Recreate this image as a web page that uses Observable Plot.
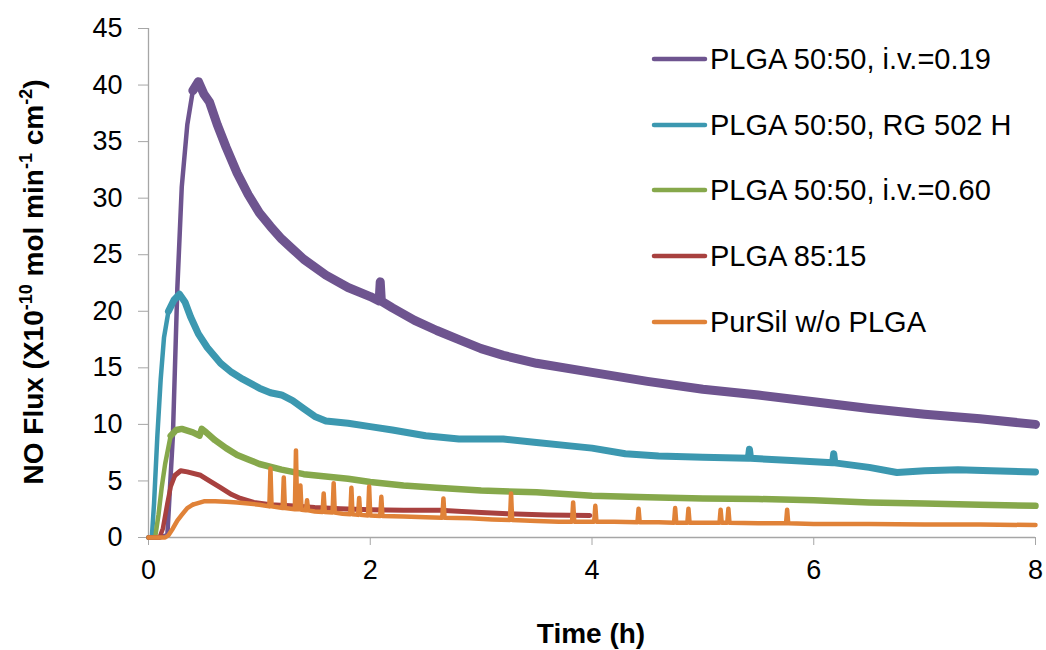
<!DOCTYPE html>
<html>
<head>
<meta charset="utf-8">
<script src="https://cdn.jsdelivr.net/npm/d3@7"></script>
<script src="https://cdn.jsdelivr.net/npm/@observablehq/plot@0.6"></script>
<style>
  html, body { margin: 0; padding: 0; background: #fff; }
  #chart { position: relative; width: 1046px; height: 650px; }
</style>
</head>
<body>
<div id="chart"></div>
<script>
// ---- Data ----
const seriesNames = ["PLGA 50:50, i.v.=0.19", "PLGA 50:50, RG 502 H", "PLGA 50:50, i.v.=0.60", "PLGA 85:15", "PurSil w/o PLGA"];
const seriesColors = ["#6E548F", "#3C98B0", "#86A84B", "#A8413F", "#E08238"];
const seriesWidths = [9, 7, 6.5, 5, 4.5];

const xTicks = [0, 2, 4, 6, 8];
const yTicks = [0, 5, 10, 15, 20, 25, 30, 35, 40, 45];

// time (h), flux
const plga019 = [[0,0],[0.1,0],[0.17,0.2],[0.22,9],[0.26,22],[0.3,31],[0.35,36.5],[0.4,39.5],[0.45,40.3],[0.5,39.2],[0.55,38.5],[0.62,36.5],[0.7,34.5],[0.8,32.2],[0.9,30.3],[1.0,28.7],[1.1,27.5],[1.2,26.4],[1.3,25.5],[1.4,24.6],[1.6,23.2],[1.8,22.1],[2.0,21.3],[2.08,20.9],[2.09,22.6],[2.10,20.9],[2.2,20.3],[2.4,19.2],[2.6,18.3],[2.8,17.5],[3.0,16.7],[3.2,16.1],[3.5,15.4],[4.0,14.6],[4.5,13.8],[5.0,13.1],[5.5,12.6],[6.0,12.0],[6.5,11.4],[7.0,10.9],[7.5,10.5],[8,10.0]];

const plgaRG502H = [[0,0],[0.03,0],[0.05,3],[0.08,9],[0.11,14],[0.14,17.7],[0.18,20],[0.23,21],[0.28,21.5],[0.33,20.8],[0.38,19.5],[0.45,18],[0.53,16.8],[0.65,15.4],[0.75,14.6],[0.85,14],[1.0,13.2],[1.1,12.8],[1.2,12.6],[1.3,12.1],[1.4,11.4],[1.5,10.7],[1.6,10.3],[1.8,10.1],[2.0,9.8],[2.2,9.5],[2.5,9.0],[2.8,8.7],[3.0,8.7],[3.2,8.7],[3.5,8.4],[3.8,8.1],[4.0,7.9],[4.3,7.4],[4.6,7.2],[5.0,7.1],[5.41,7.0],[5.42,7.8],[5.43,7.0],[5.8,6.8],[6.17,6.6],[6.18,7.4],[6.19,6.6],[6.5,6.2],[6.75,5.75],[7.0,5.9],[7.3,6.0],[7.6,5.9],[8,5.8]];

const plga060 = [[0,0],[0.06,0],[0.09,2],[0.12,4.5],[0.15,6.5],[0.2,9],[0.25,9.5],[0.3,9.6],[0.4,9.3],[0.46,9.0],[0.48,9.6],[0.52,9.3],[0.6,8.6],[0.7,7.9],[0.8,7.3],[0.9,6.9],[1.0,6.5],[1.2,6.0],[1.4,5.6],[1.6,5.4],[1.8,5.2],[2.0,4.9],[2.3,4.6],[2.6,4.4],[3.0,4.15],[3.5,4.0],[4.0,3.7],[4.5,3.55],[5.0,3.45],[5.5,3.4],[6.0,3.3],[6.5,3.1],[7.0,3.0],[7.5,2.9],[8,2.8]];

const plga8515 = [[0,0],[0.1,0],[0.13,0.8],[0.17,3],[0.2,4.5],[0.24,5.5],[0.29,5.9],[0.35,5.8],[0.47,5.5],[0.55,5.0],[0.65,4.4],[0.75,3.8],[0.83,3.45],[0.95,3.1],[1.1,2.9],[1.28,2.8],[1.5,2.65],[1.73,2.55],[2.0,2.45],[2.3,2.4],[2.63,2.4],[3.0,2.2],[3.24,2.1],[3.6,2.0],[3.98,1.95]];

const pursil = [[0,0],[0.15,0],[0.18,0.2],[0.22,0.8],[0.26,1.5],[0.3,2.0],[0.35,2.6],[0.4,2.9],[0.5,3.2],[0.6,3.2],[0.7,3.15],[0.8,3.1],[0.9,3.0],[1.0,2.9],[1.09,2.75],[1.10,6.1],[1.11,2.75],[1.21,2.6],[1.22,5.3],[1.23,2.6],[1.32,2.5],[1.33,7.7],[1.34,2.5],[1.36,2.5],[1.37,4.6],[1.38,2.45],[1.42,2.4],[1.43,3.3],[1.44,2.4],[1.5,2.3],[1.57,2.25],[1.58,3.9],[1.59,2.25],[1.66,2.2],[1.67,4.8],[1.68,2.2],[1.75,2.1],[1.82,2.05],[1.83,4.4],[1.84,2.05],[1.89,2.0],[1.90,3.5],[1.91,2.0],[1.98,1.95],[1.99,4.5],[2.0,1.95],[2.09,1.9],[2.10,3.6],[2.11,1.9],[2.3,1.85],[2.5,1.8],[2.65,1.75],[2.66,3.45],[2.67,1.75],[2.9,1.7],[3.1,1.6],[3.26,1.55],[3.27,3.9],[3.28,1.55],[3.5,1.45],[3.7,1.4],[3.82,1.4],[3.83,3.1],[3.84,1.4],[3.9,1.4],[4.02,1.4],[4.03,2.8],[4.04,1.4],[4.2,1.4],[4.41,1.35],[4.42,2.55],[4.43,1.35],[4.6,1.35],[4.74,1.3],[4.75,2.6],[4.76,1.3],[4.86,1.3],[4.87,2.55],[4.88,1.3],[5.0,1.3],[5.15,1.3],[5.16,2.45],[5.17,1.3],[5.22,1.3],[5.23,2.55],[5.24,1.3],[5.5,1.25],[5.75,1.25],[5.76,2.45],[5.77,1.25],[6.0,1.2],[6.5,1.2],[7.0,1.15],[7.5,1.15],[8.0,1.1]];

const allSeries = [plga019, plgaRG502H, plga060, plga8515, pursil];
// time (h) up to which each curve is still rising (drawn with a thinner stroke)
const riseEnd = [0.4, 0.18, 0.2, 0.24, 0.4];

// ---- Chart ----
const axisGray = "#a6a6a6";
const font = "Liberation Sans, Arial, sans-serif";

const lineMarks = allSeries.flatMap((s, i) => [
  Plot.line(s, {filter: d => d[0] <= riseEnd[i] + 0.001, x: d => d[0], y: d => d[1], stroke: seriesColors[i], strokeWidth: 4.5, strokeLinejoin: "round", strokeLinecap: "round"}),
  Plot.line(s, {filter: d => d[0] >= riseEnd[i] - 0.001, x: d => d[0], y: d => d[1], stroke: seriesColors[i], strokeWidth: seriesWidths[i], strokeLinejoin: "round", strokeLinecap: "round"})
]);

const chart = Plot.plot({
  width: 1046,
  height: 650,
  marginLeft: 148,
  marginRight: 11,
  marginTop: 28,
  marginBottom: 113,
  style: {fontFamily: font, fontSize: "27px", color: "#000", background: "#fff", overflow: "visible"},
  x: {domain: [0, 8]},
  y: {domain: [0, 45]},
  marks: [
    Plot.axisX(xTicks, {tickSize: 8, tickPadding: 14, stroke: axisGray, fill: "#000", fontSize: 27, label: null}),
    Plot.axisY(yTicks, {tickSize: 10, tickPadding: 16, stroke: axisGray, fill: "#000", fontSize: 27, label: null}),
    Plot.ruleX([0], {stroke: axisGray, strokeWidth: 1.3}),
    Plot.ruleY([0], {stroke: axisGray, strokeWidth: 1.3}),
    ...lineMarks
  ]
});

document.getElementById("chart").appendChild(chart);

const svg = d3.select(chart);

// Axis titles
svg.append("text")
  .attr("x", 591).attr("y", 643)
  .attr("text-anchor", "middle")
  .attr("font-family", font).attr("font-weight", "bold").attr("font-size", 28)
  .attr("fill", "#000")
  .text("Time (h)");

const yt = svg.append("text")
  .attr("transform", "translate(43,282) rotate(-90)")
  .attr("text-anchor", "middle")
  .attr("font-family", font).attr("font-weight", "bold").attr("font-size", 28)
  .attr("fill", "#000");
yt.append("tspan").text("NO Flux (X10");
yt.append("tspan").attr("font-size", 18).attr("dy", -11).text("-10");
yt.append("tspan").attr("dy", 11).text(" mol min");
yt.append("tspan").attr("font-size", 18).attr("dy", -11).text("-1");
yt.append("tspan").attr("dy", 11).text(" cm");
yt.append("tspan").attr("font-size", 18).attr("dy", -11).text("-2");
yt.append("tspan").attr("dy", 11).text(")");

// Legend
const legendRows = [59, 125, 190, 256, 322];
seriesNames.forEach((name, i) => {
  const g = svg.append("g");
  g.append("line")
    .attr("x1", 654).attr("x2", 705)
    .attr("y1", legendRows[i]).attr("y2", legendRows[i])
    .attr("stroke", seriesColors[i]).attr("stroke-width", 4.5).attr("stroke-linecap", "round");
  g.append("text")
    .attr("x", 710).attr("y", legendRows[i]).attr("dy", "0.36em")
    .attr("text-anchor", "start")
    .attr("font-family", font).attr("font-size", 29).attr("fill", "#000")
    .text(name);
});
</script>
</body>
</html>
